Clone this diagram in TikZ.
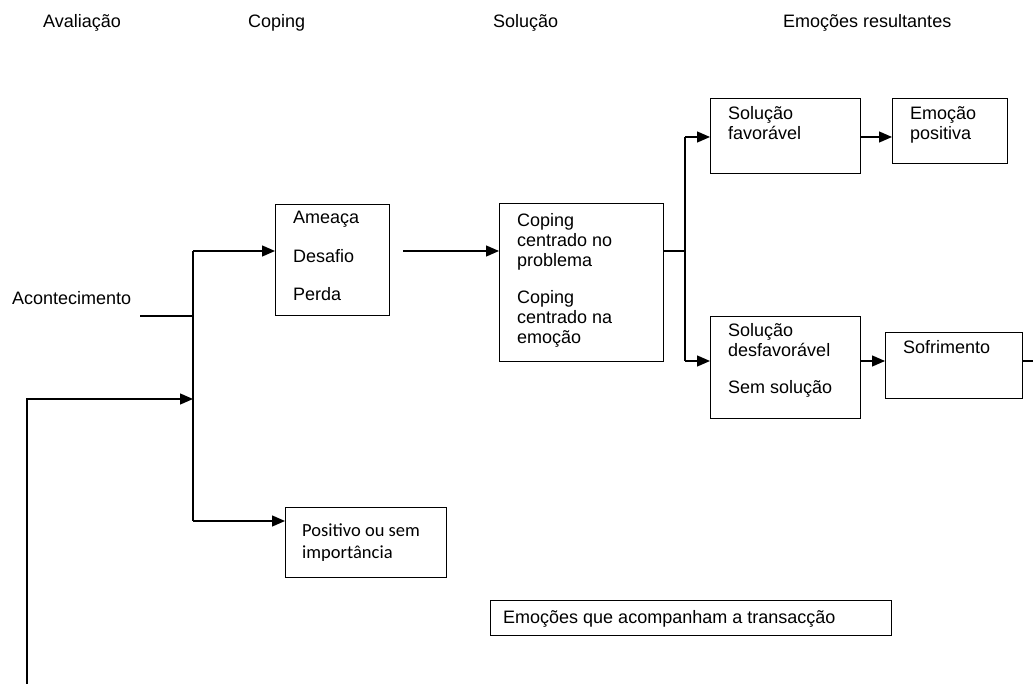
\documentclass[tikz,border=0pt]{standalone}
\usepackage{fontspec}
\setmainfont{Liberation Sans}
\newfontfamily\calib{Carlito}
\usetikzlibrary{arrows.meta}
\begin{document}
\begin{tikzpicture}[x=1pt,y=-1pt,
  box/.style={draw, line width=1.3pt, rectangle, inner sep=0pt, anchor=north west},
  txt/.style={anchor=base west, inner sep=0pt, font=\fontsize{18}{20}\selectfont},
  ctxt/.style={anchor=base west, inner sep=0pt, font=\calib\fontsize{18.5}{20}\selectfont},
  conn/.style={line width=1.3pt},
  arr/.style={conn, -{Triangle[length=13pt,width=11pt]}}]
\useasboundingbox (0,0) rectangle (1033,684);
% headers
\node[txt] (h1) at (43,28) {Avaliação};
\node[txt] (h2) at (248,28) {Coping};
\node[txt] (h3) at (493,28) {Solução};
\node[txt] (h4) at (783,28) {Emoções resultantes};
% boxes
\node[box, minimum width=114pt, minimum height=111pt] (ameaca) at (275,204) {};
\node[box, minimum width=164pt, minimum height=158pt] (coping) at (499,203) {};
\node[box, minimum width=150pt, minimum height=75pt] (fav) at (710,98) {};
\node[box, minimum width=115pt, minimum height=65pt] (emopos) at (892,98) {};
\node[box, minimum width=150pt, minimum height=102pt] (desf) at (710,316) {};
\node[box, minimum width=137pt, minimum height=66pt] (sof) at (885,332) {};
\node[box, minimum width=161pt, minimum height=70pt] (pos) at (285,507) {};
\node[box, minimum width=401pt, minimum height=35pt] (trans) at (490,600) {};
% texts
\node[txt] (acont) at (12,305) {Acontecimento};
\node[txt] (t1) at (293,224) {Ameaça};
\node[txt] (t2) at (293,263) {Desafio};
\node[txt] (t3) at (293,301) {Perda};
\node[txt] (c1) at (517,227) {Coping};
\node[txt] (c2) at (517,247) {centrado no};
\node[txt] (c3) at (517,267) {problema};
\node[txt] (c4) at (517,304) {Coping};
\node[txt] (c5) at (517,324) {centrado na};
\node[txt] (c6) at (517,344) {emoção};
\node[txt] (f1) at (728,120) {Solução};
\node[txt] (f2) at (728,140) {favorável};
\node[txt] (e1) at (910,120) {Emoção};
\node[txt] (e2) at (910,140) {positiva};
\node[txt] (d1) at (728,337) {Solução};
\node[txt] (d2) at (728,357) {desfavorável};
\node[txt] (d3) at (728,393) {Sem solução};
\node[txt] (s1) at (903,354) {Sofrimento};
\node[txt] (tr) at (503,623) {Emoções que acompanham a transacção};
\node[ctxt] (p1) at (302,536) {Positivo ou sem};
\node[ctxt] (p2) at (302,558) {importância};
% junction coordinates
\coordinate (a0) at (140,316);
\coordinate (ja) at (193,316);
\coordinate (jt) at (193,251);
\coordinate (jb) at (193,521);
\coordinate (jf) at (193,399);
\coordinate (fb0) at (27,684);
\coordinate (fb1) at (27,399);
\coordinate (k0) at (403,251);
\coordinate (r0) at (685,251);
\coordinate (rt) at (685,137);
\coordinate (rb) at (685,361);
\coordinate (send) at (1033,361);
% connectors
\draw[conn] (a0) -- (ja);
\draw[conn] (jt) -- (jb);
\draw[arr] (jt) -- (ameaca.west |- jt);
\draw[arr] (jb) -- (pos.west |- jb);
\draw[arr] (fb0) -- (fb1) -- (jf);
\draw[arr] (k0) -- (coping.west |- k0);
\draw[conn] (coping.east |- r0) -- (r0);
\draw[conn] (rt) -- (rb);
\draw[arr] (rt) -- (fav.west |- rt);
\draw[arr] (rb) -- (desf.west |- rb);
\draw[arr] (fav.east |- rt) -- (emopos.west |- rt);
\draw[arr] (desf.east |- rb) -- (sof.west |- rb);
\draw[conn] (sof.east |- rb) -- (send);
\end{tikzpicture}
\end{document}
